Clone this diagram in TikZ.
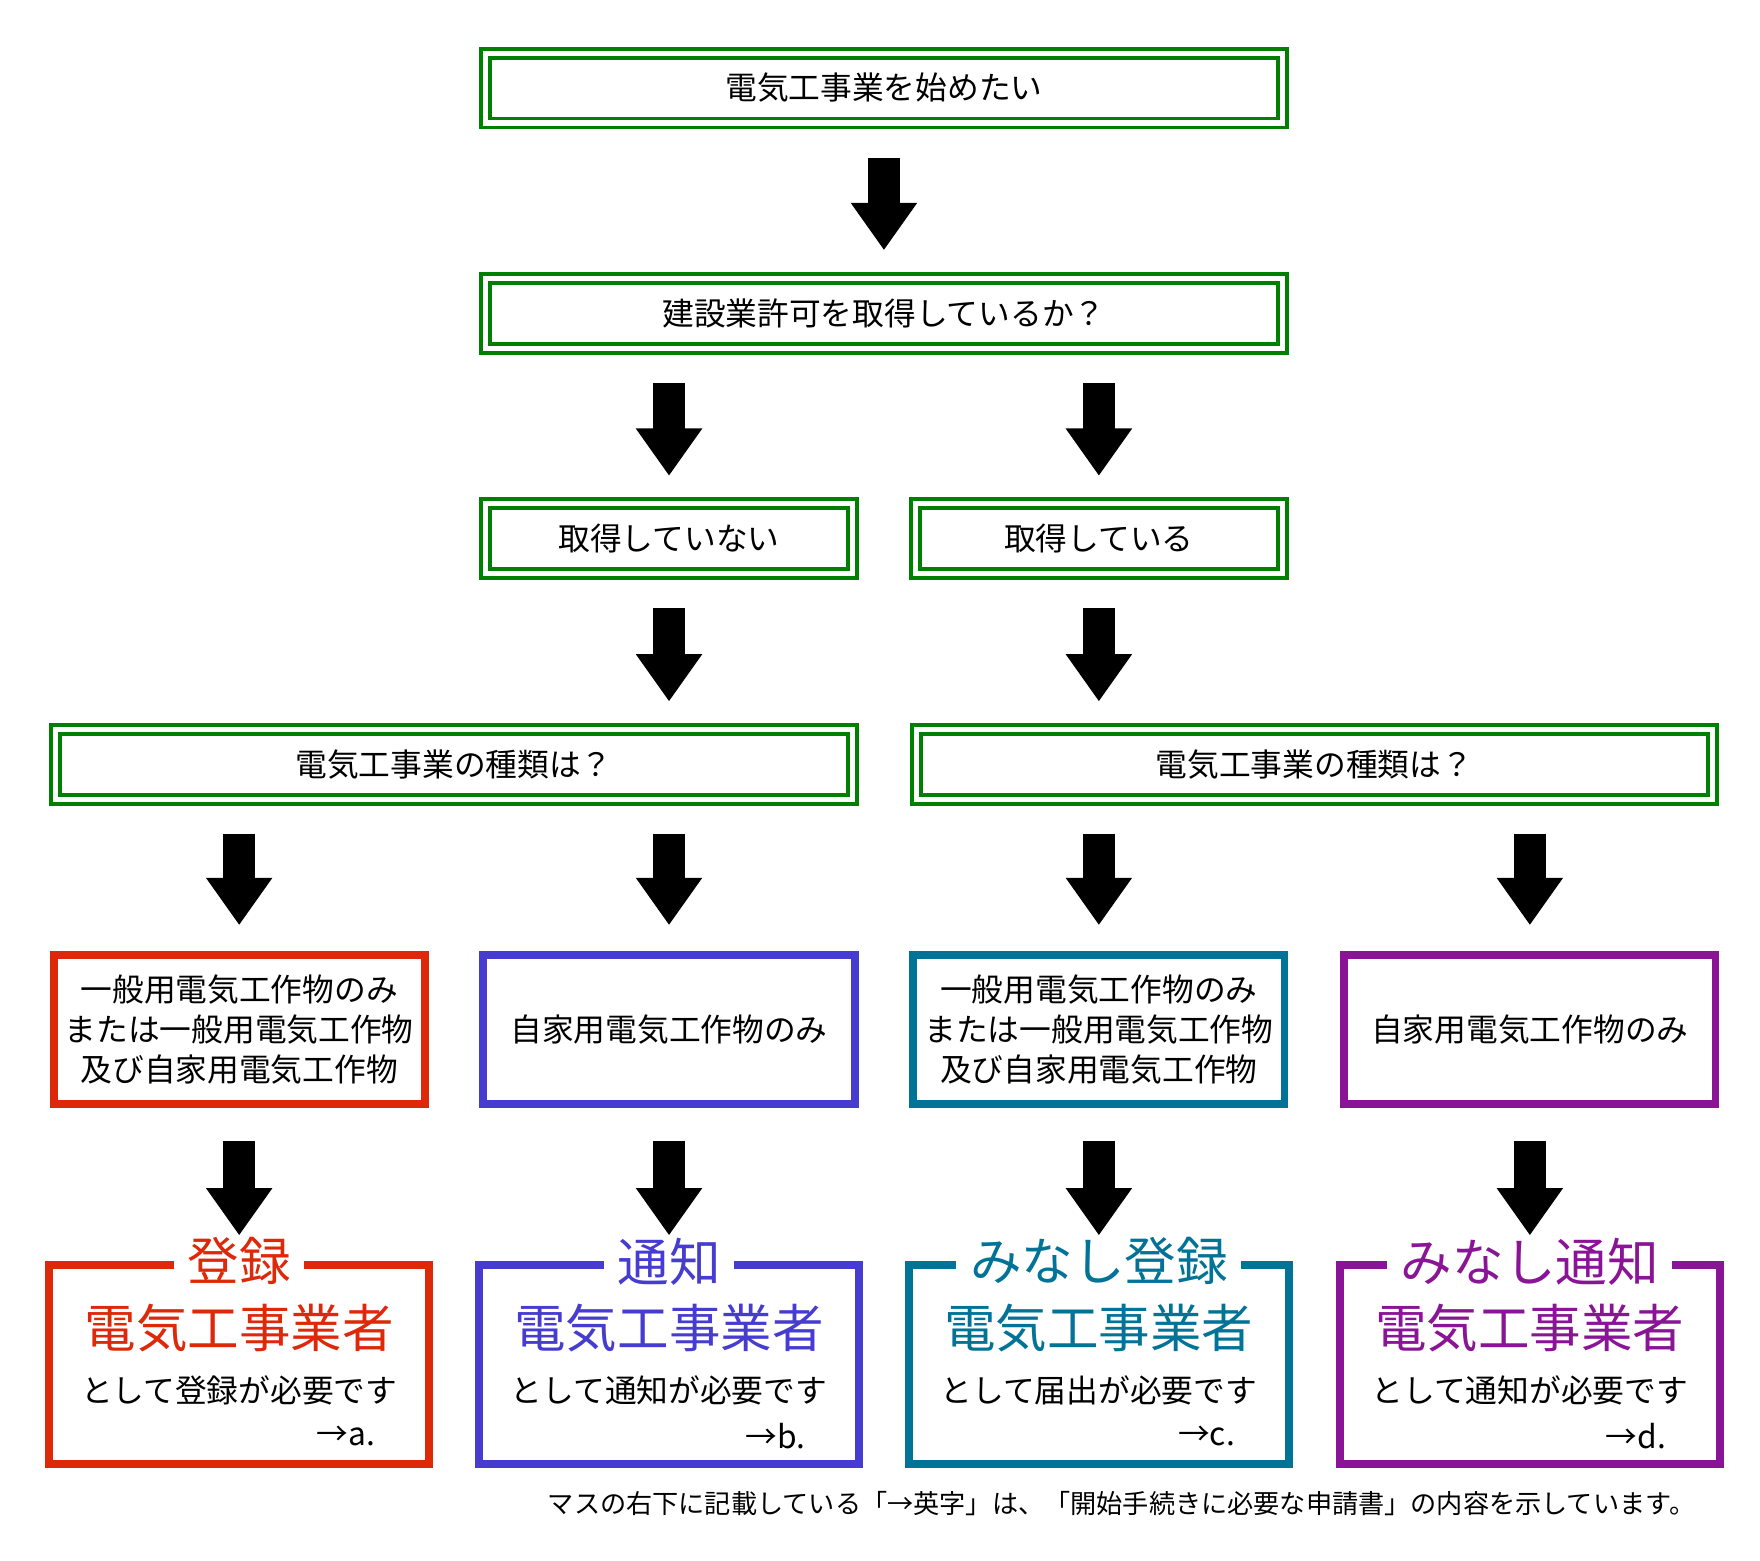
\documentclass[tikz,border=0pt]{standalone}
\usepackage{fontspec}
\setmainfont{Noto Sans CJK JP}
\definecolor{fl_green}{RGB}{0, 128, 0}
\definecolor{fl_red}{RGB}{221, 40, 10}
\definecolor{fl_blue}{RGB}{70, 60, 208}
\definecolor{fl_teal}{RGB}{0, 115, 150}
\definecolor{fl_purple}{RGB}{138, 20, 150}
\usetikzlibrary{arrows.meta, positioning}
\begin{document}
\begin{tikzpicture}[x=0.1mm, y=-0.1mm,
        every node/.style={font=\fontsize{8pt}{10pt}\selectfont},
        qbox/.style={draw=fl_green, line width=0.35mm, double=white, double distance=0.45mm,
                     minimum height=6.2mm, inner sep=0pt},
        kind/.style={draw=#1, line width=0.7mm, minimum width=32.9mm, minimum height=13.2mm,
                     align=center, inner sep=0pt},
        result/.style={draw=#1, line width=0.7mm, minimum width=33.7mm, minimum height=17.6mm,
                     inner sep=0pt},
        title/.style={fill=white, text=#1, font=\fontsize{13pt}{14pt}\selectfont, inner sep=1.2mm},
        big/.style={text=#1, font=\fontsize{13pt}{14pt}\selectfont},
        down/.style={line width=2.8mm, -{Triangle[width=5.6mm, length=4.2mm]},
                     shorten <=2.9mm, shorten >=2.3mm},
      ]
        \useasboundingbox (0,0) rectangle (1560,1383);
        \node[qbox, minimum width=70.6mm] (start) at (783.5,78)   {電気工事業を始めたい};
        \node[qbox, minimum width=70.6mm] (lic)   at (783.5,277.5){建設業許可を取得しているか？};
        \node[qbox, minimum width=32.5mm] (nolic) at (593,477.5)  {取得していない};
        \node[qbox, minimum width=32.5mm] (haslic)at (974,477.5)  {取得している};
        \node[qbox, minimum width=70.6mm] (typeA) at (402.5,677.5){電気工事業の種類は？};
        \node[qbox, minimum width=70.6mm] (typeB) at (1165,677.5) {電気工事業の種類は？};

        \node[kind=fl_red]    (kA) at (212,912.5)  {一般用電気工作物のみ\\または一般用電気工作物\\及び自家用電気工作物};
        \node[kind=fl_blue]   (kB) at (593,912.5)  {自家用電気工作物のみ};
        \node[kind=fl_teal]   (kC) at (974,912.5)  {一般用電気工作物のみ\\または一般用電気工作物\\及び自家用電気工作物};
        \node[kind=fl_purple] (kD) at (1356,912.5) {自家用電気工作物のみ};

        % results
        \node[result=fl_red]    (rA) at (212,1209.5)  {};
        \node[result=fl_blue]   (rB) at (593,1209.5)  {};
        \node[result=fl_teal]   (rC) at (974,1209.5)  {};
        \node[result=fl_purple] (rD) at (1356,1209.5) {};
        \node[title=fl_red]    (tA) at (rA.north) {登録};
        \node[title=fl_blue]   (tB) at (rB.north) {通知};
        \node[title=fl_teal]   (tC) at (rC.north) {みなし登録};
        \node[title=fl_purple] (tD) at (rD.north) {みなし通知};
        \node[big=fl_red]    (eA) at (212,1177)  {電気工事業者};
        \node[big=fl_blue]   (eB) at (593,1177)  {電気工事業者};
        \node[big=fl_teal]   (eC) at (974,1177)  {電気工事業者};
        \node[big=fl_purple] (eD) at (1356,1177) {電気工事業者};
        \node (nA) at (212,1232)  {として登録が必要です};
        \node (nB) at (593,1232)  {として通知が必要です};
        \node (nC) at (974,1232)  {として届出が必要です};
        \node (nD) at (1356,1232) {として通知が必要です};
        \node[anchor=east] (fA) at (345,1273)  {→a.};
        \node[anchor=east] (fB) at (726,1273)  {→b.};
        \node[anchor=east] (fC) at (1107,1273) {→c.};
        \node[anchor=east] (fD) at (1489,1273) {→d.};

        \node[anchor=east, font=\fontsize{6.6pt}{8pt}\selectfont] (note) at (1515,1333)
          {マスの右下に記載している「→英字」は、「開始手続きに必要な申請書」の内容を示しています。};

        \draw[down] (start) -- (lic);
        \draw[down] (lic.south -| nolic) -- (nolic);
        \draw[down] (lic.south -| haslic) -- (haslic);
        \draw[down] (nolic) -- (nolic |- typeA.north);
        \draw[down] (haslic) -- (haslic |- typeB.north);
        \draw[down] (typeA.south -| kA) -- (kA);
        \draw[down] (typeA.south -| kB) -- (kB);
        \draw[down] (typeB.south -| kC) -- (kC);
        \draw[down] (typeB.south -| kD) -- (kD);
        \draw[down] (kA) -- (rA);
        \draw[down] (kB) -- (rB);
        \draw[down] (kC) -- (rC);
        \draw[down] (kD) -- (rD);
      \end{tikzpicture}
\end{document}
